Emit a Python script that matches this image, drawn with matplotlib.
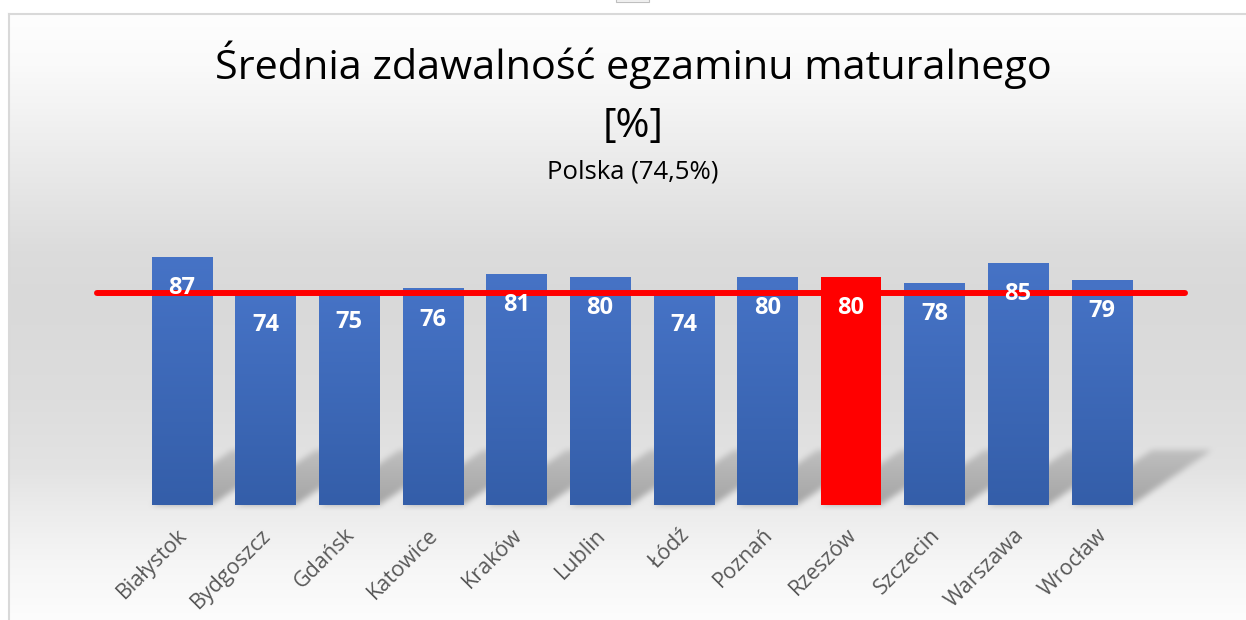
import numpy as np
import matplotlib
matplotlib.use('Agg')
import matplotlib.pyplot as plt
from matplotlib.colors import LinearSegmentedColormap
from matplotlib.patches import Rectangle
from matplotlib.transforms import ScaledTranslation

plt.rcParams['font.family'] = ['Open Sans', 'DejaVu Sans']

# data
cities = ['Białystok', 'Bydgoszcz', 'Gdańsk', 'Katowice', 'Kraków', 'Lublin',
          'Łódź', 'Poznań', 'Rzeszów', 'Szczecin', 'Warszawa', 'Wrocław']
pass_rate = [87, 74, 75, 76, 81, 80, 74, 80, 80, 78, 85, 79]
polska = 74.5
highlight = 'Rzeszów'

title = 'Średnia zdawalność egzaminu maturalnego'
subtitle = 'Polska (74,5%)'

W, H = 1246, 620
fig = plt.figure(figsize=(W / 100, H / 100), dpi=100)

bg_ax = fig.add_axes([0, 0, 1, 1], zorder=0)
bg_ax.set_axis_off()
ax = fig.add_axes([90 / W, 115 / H, 1103.6 / W, 285 / H], zorder=1)
ax.patch.set_alpha(0)

xs = np.arange(len(cities))
bar_w = 0.72
ax.set_xlim(-1.1, 12.1)
ax.set_ylim(0, 100)

# ---- background gradient + blurred perspective shadows (pixel image)
rows = np.arange(H)
stops_y = [0, 65, 170, 250, 300, 400, 470, 505, 560, 620]
stops_v = [255, 250, 233, 220, 217, 221, 227, 235, 245, 253]
gray = np.interp(rows, stops_y, stops_v) / 255.0

yy = (H - rows - 0.5)[:, None]          # display y of each row
xx = (np.arange(W) + 0.5)[None, :]
shadow = np.zeros((H, W))
for i, v in zip(xs, pass_rate):
    (x0p, y0p) = ax.transData.transform((i - bar_w / 2, 0))
    (x1p, _) = ax.transData.transform((i + bar_w / 2, 0))
    (xtp, ytp) = ax.transData.transform((i - bar_w / 2 + 0.96, 19.3))
    dxp, hp = xtp - x0p, ytp - y0p
    t = (yy - y0p) / hp
    m = (t >= 0) & (t <= 1) & (xx >= x0p + t * dxp) & (xx <= x1p + t * dxp)
    shadow = np.maximum(shadow, np.where(m, 0.3 * (1 - 0.5 * t), 0))


def blur1d(a, k, axis):
    pad = k // 2
    widths = [(pad, pad) if d == axis else (0, 0) for d in range(2)]
    a = np.pad(a, widths, mode='edge')
    c = np.cumsum(a, axis=axis)
    c = np.insert(c, 0, 0, axis=axis)
    n = a.shape[axis] - k + 1
    return (np.take(c, np.arange(k, k + n), axis=axis)
            - np.take(c, np.arange(0, n), axis=axis)) / k


for _ in range(2):
    shadow = blur1d(shadow, 7, 0)
    shadow = blur1d(shadow, 7, 1)

img = np.repeat(gray[:, None], W, axis=1) * (1 - shadow)
img[:13, :] = 1.0
img[:, :8] = 1.0
bg_ax.imshow(np.dstack([img] * 3), extent=(0, W, H, 0), aspect='auto',
             interpolation='nearest')
bg_ax.set_xlim(0, W)
bg_ax.set_ylim(H, 0)
bg_ax.plot([8.5, 8.5], [H, 13.5], color='#d9d9d9', lw=1.5)
bg_ax.plot([8.5, W], [13.5, 13.5], color='#d9d9d9', lw=1.5)
bg_ax.add_patch(Rectangle((616, -1), 33, 2.5, facecolor='#f2f2f2',
                          edgecolor='#bfbfbf', lw=0.8))

# ---- bars
colors = ['red' if c == highlight else '#4472c4' for c in cities]
bars = ax.bar(xs, pass_rate, width=bar_w, color=colors, zorder=2)
blue_grad = LinearSegmentedColormap.from_list('bg', ['#345ea9', '#4673c6'])
grad = np.linspace(0, 1, 256).reshape(-1, 1)
for b, c in zip(bars, cities):
    if c == highlight:
        b.set_zorder(4)
        continue
    x0 = b.get_x()
    im = ax.imshow(grad, extent=(x0, x0 + b.get_width(), 0, b.get_height()),
                   origin='lower', cmap=blue_grad, aspect='auto', zorder=2.1)
    im.set_clip_path(b)

ax.set_xlim(-1.1, 12.1)
ax.set_ylim(0, 100)

# national average line
ax.plot([-1.02, 12.0], [polska, polska], color='red', lw=4.3,
        solid_capstyle='round', zorder=3)

for i, v in zip(xs, pass_rate):
    ax.annotate(str(v), (i, v), xytext=(0, -22.5), textcoords='offset points',
                ha='center', va='center', color='white', fontsize=17,
                fontweight='bold', zorder=5)

ax.set_xticks(xs, cities, rotation=45, ha='right', va='top',
              rotation_mode='anchor', fontsize=15.5, color='#595959')
ax.tick_params(axis='x', length=0, pad=14)
for lbl in ax.get_xticklabels():
    lbl.set_transform(lbl.get_transform()
                      + ScaledTranslation(-5 / 100, 0, fig.dpi_scale_trans))
ax.set_yticks([])
for s in ax.spines.values():
    s.set_visible(False)

fig.text(633 / W, 1 - 65 / H, title, ha='center', va='center', fontsize=29.8)
fig.text(633 / W, 1 - 127 / H, '[%]', ha='center', va='center', fontsize=29.8)
fig.text(633 / W, 1 - 172 / H, subtitle, ha='center', va='center',
         fontsize=18.5)

fig.savefig('out.png', dpi=100)
